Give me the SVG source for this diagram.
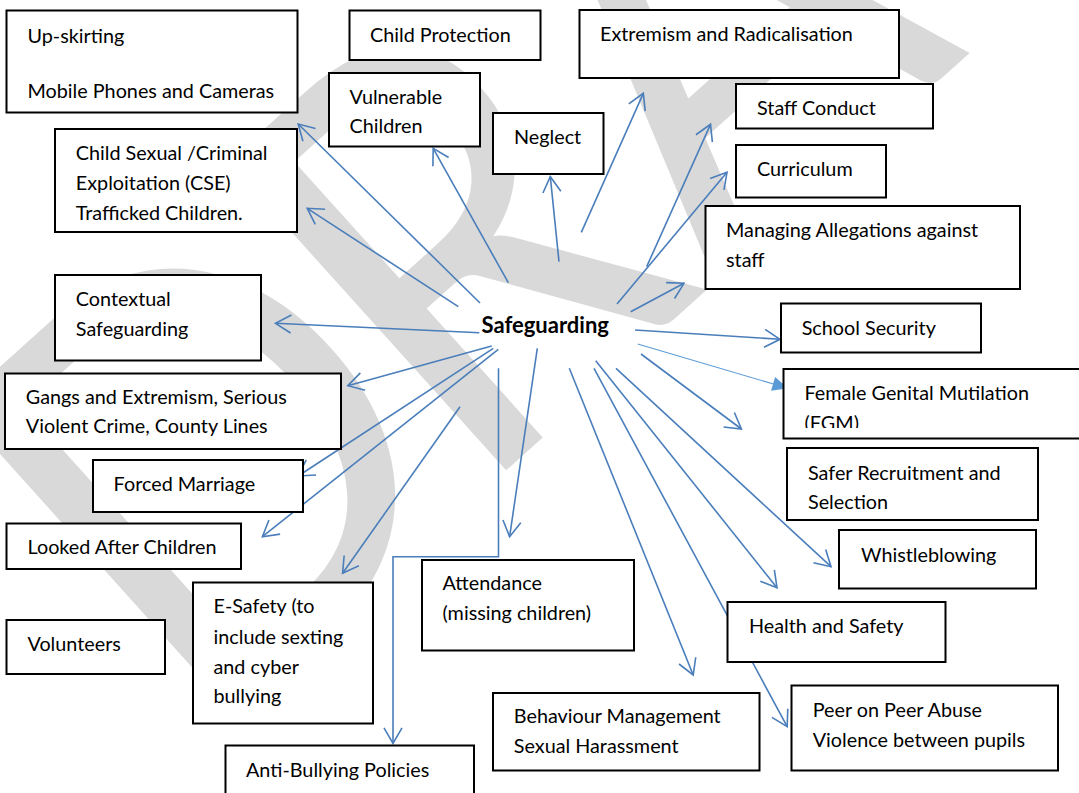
<svg xmlns="http://www.w3.org/2000/svg" width="1079" height="793" viewBox="0 0 1079 793">
<style>
.box{fill:#fff;stroke:#000;stroke-width:2}
.t{font-family:Lato,"Liberation Sans",sans-serif;font-size:19.8px;fill:#000}
.b{font-weight:bold;font-size:22px}
.c{stroke:#4A7EBB;stroke-width:1.6;fill:none;marker-end:url(#open)}
.wm{font-family:Lato,"Liberation Sans",sans-serif;fill:#d9d9d9}
</style>
<defs>
<marker id="open" markerUnits="userSpaceOnUse" markerWidth="24" markerHeight="24" viewBox="-20 -12 24 24" refX="0" refY="0" orient="auto">
<path d="M-15.5,-9 L0,0 L-15.5,9" fill="none" stroke="#4A7EBB" stroke-width="1.6"/>
</marker>
<marker id="tri" markerUnits="userSpaceOnUse" markerWidth="20" markerHeight="20" viewBox="-16 -9 18 18" refX="0" refY="0" orient="auto">
<path d="M-14,-6.5 L0,0 L-14,6.5 Z" fill="#5B9BD5"/>
</marker>
<clipPath id="fgmclip"><rect x="783" y="369" width="300" height="59"/></clipPath>
</defs>
<rect width="1079" height="793" fill="#fff"/>
<g id="watermark">
<text class="wm" font-size="580" transform="translate(200,746) rotate(-42) scale(0.88,1)"><tspan x="0 415 786 1273 1580" y="0">DRAFT</tspan></text>
</g>
<g id="connectors">
<line class="c" x1="480" y1="303" x2="298.2" y2="124"/>
<line class="c" x1="458.3" y1="306.7" x2="307.2" y2="208.3"/>
<line class="c" x1="508.3" y1="282.7" x2="433.2" y2="148.3"/>
<line class="c" x1="479.3" y1="332.7" x2="275.5" y2="323.3"/>
<line class="c" x1="491.7" y1="346" x2="347.8" y2="385.7"/>
<line class="c" x1="493.3" y1="348.3" x2="298.2" y2="476"/>
<line class="c" x1="498.3" y1="349.3" x2="262.4" y2="536.7"/>
<line class="c" x1="460" y1="406.7" x2="342.6" y2="573.3"/>
<polyline class="c" points="498.5,368.3 498.5,556.7 393,556.7 393,743.3"/>
<line class="c" x1="537.3" y1="348.3" x2="509.6" y2="536.7"/>
<line class="c" x1="569.3" y1="368.3" x2="693.2" y2="675"/>
<line class="c" x1="594" y1="368.3" x2="787.2" y2="726.7"/>
<line class="c" x1="595.7" y1="360.7" x2="777" y2="587.7"/>
<line class="c" x1="616" y1="368.3" x2="831" y2="566.7"/>
<line class="c" x1="641" y1="354" x2="741.4" y2="429"/>
<line x1="637.7" y1="344" x2="788" y2="388.3" stroke="#5B9BD5" stroke-width="1.1" marker-end="url(#tri)"/>
<line class="c" x1="635" y1="330" x2="780" y2="339.3"/>
<line class="c" x1="630.7" y1="311.7" x2="684" y2="283.3"/>
<line class="c" x1="617" y1="304" x2="727" y2="172.3"/>
<line class="c" x1="646.7" y1="266.7" x2="710.5" y2="124.3"/>
<line class="c" x1="581.3" y1="232.3" x2="643.3" y2="93.3"/>
<line class="c" x1="559" y1="261.7" x2="550.3" y2="176.7"/>
</g>
<g id="n-upskirting"><rect class="box" x="6.5" y="10.5" width="291" height="102"/><text class="t" x="27.5" y="42.7">Up-skirting</text><text class="t" x="27.5" y="98">Mobile Phones and Cameras</text></g>
<g id="n-child-protection"><rect class="box" x="349.5" y="10.5" width="191" height="49.5"/><text class="t" x="370" y="41.7">Child Protection</text></g>
<g id="n-vulnerable"><rect class="box" x="329" y="73" width="151" height="73.5"/><text class="t" x="349.5" y="104">Vulnerable</text><text class="t" x="349.5" y="133">Children</text></g>
<g id="n-neglect"><rect class="box" x="493" y="113" width="110.5" height="61"/><text class="t" x="514" y="144">Neglect</text></g>
<g id="n-cse"><rect class="box" x="55" y="129" width="242" height="103"/><text class="t" x="75.8" y="160">Child Sexual /Criminal</text><text class="t" x="75.8" y="190">Exploitation (CSE)</text><text class="t" x="75.8" y="220">Trafficked Children.</text></g>
<g id="n-contextual"><rect class="box" x="55" y="275" width="206" height="85.5"/><text class="t" x="75.8" y="306">Contextual</text><text class="t" x="75.8" y="336">Safeguarding</text></g>
<g id="n-gangs"><rect class="box" x="5" y="373.5" width="336" height="75.5"/><text class="t" x="25.8" y="404">Gangs and Extremism, Serious</text><text class="t" x="25.8" y="433">Violent Crime, County Lines</text></g>
<g id="n-forced"><rect class="box" x="93" y="460" width="210" height="52"/><text class="t" x="113.6" y="491">Forced Marriage</text></g>
<g id="n-looked"><rect class="box" x="6.5" y="523.5" width="234.5" height="45.5"/><text class="t" x="27.5" y="554.3">Looked After Children</text></g>
<g id="n-volunteers"><rect class="box" x="6.5" y="620" width="158.5" height="54"/><text class="t" x="27.5" y="650.7">Volunteers</text></g>
<g id="n-esafety"><rect class="box" x="193" y="582.5" width="180" height="141"/><text class="t" x="213.5" y="613.3">E-Safety (to</text><text class="t" x="213.5" y="643.5">include sexting</text><text class="t" x="213.5" y="673.5">and cyber</text><text class="t" x="213.5" y="702.7">bullying</text></g>
<g id="n-antibullying"><rect class="box" x="225.5" y="745.5" width="248.5" height="60"/><text class="t" x="246" y="776.7">Anti-Bullying Policies</text></g>
<g id="n-attendance"><rect class="box" x="422" y="560" width="212" height="90.5"/><text class="t" x="442.5" y="590">Attendance</text><text class="t" x="442.5" y="620">(missing children)</text></g>
<g id="n-behaviour"><rect class="box" x="493" y="693" width="266.5" height="77.5"/><text class="t" x="513.8" y="723">Behaviour Management</text><text class="t" x="513.8" y="753">Sexual Harassment</text></g>
<g id="n-safeguarding"><text class="t b" x="481.5" y="333">Safeguarding</text></g>
<g id="n-extremism"><rect class="box" x="579.5" y="10" width="319.5" height="68"/><text class="t" x="600" y="40.7">Extremism and Radicalisation</text></g>
<g id="n-staff-conduct"><rect class="box" x="736" y="84" width="197" height="44.5"/><text class="t" x="757" y="115">Staff Conduct</text></g>
<g id="n-curriculum"><rect class="box" x="736" y="145" width="150" height="52.5"/><text class="t" x="757" y="176">Curriculum</text></g>
<g id="n-managing"><rect class="box" x="705.5" y="206" width="314.5" height="83"/><text class="t" x="726" y="236.7">Managing Allegations against</text><text class="t" x="726" y="266.7">staff</text></g>
<g id="n-school-security"><rect class="box" x="781" y="303.5" width="200" height="49"/><text class="t" x="801.7" y="335">School Security</text></g>
<g id="n-fgm"><rect class="box" x="783.5" y="369" width="310" height="69.5"/><g clip-path="url(#fgmclip)"><text class="t" x="804.5" y="400">Female Genital Mutilation</text><text class="t" x="804.5" y="430">(FGM)</text></g></g>
<g id="n-safer"><rect class="box" x="787" y="448" width="251" height="72"/><text class="t" x="808" y="480">Safer Recruitment and</text><text class="t" x="808" y="508.5">Selection</text></g>
<g id="n-whistleblowing"><rect class="box" x="839" y="530" width="197" height="58.5"/><text class="t" x="861" y="561.7">Whistleblowing</text></g>
<g id="n-health"><rect class="box" x="727.5" y="602" width="218" height="60"/><text class="t" x="749" y="633">Health and Safety</text></g>
<g id="n-peer"><rect class="box" x="791.5" y="685.5" width="266.5" height="85"/><text class="t" x="812.7" y="716.7">Peer on Peer Abuse</text><text class="t" x="812.7" y="746.7">Violence between pupils</text></g>
</svg>
